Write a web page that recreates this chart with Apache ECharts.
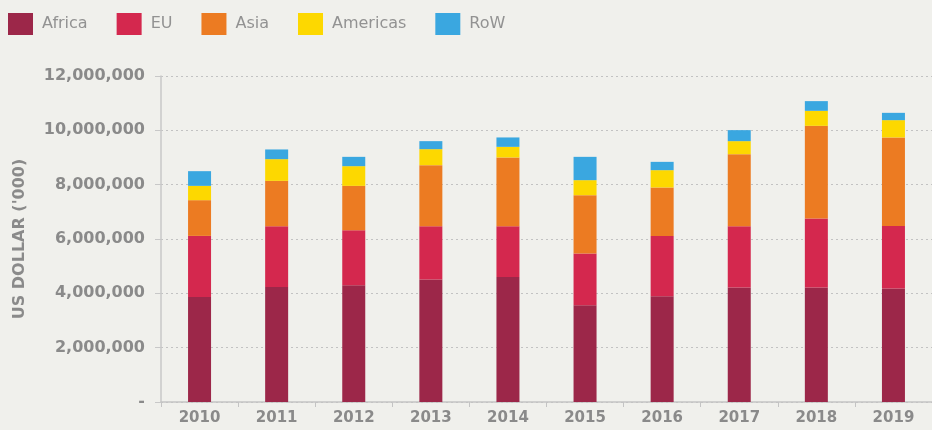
<!DOCTYPE html>
<html>
<head>
<meta charset="utf-8">
<script src="https://cdn.jsdelivr.net/npm/echarts@6/dist/echarts.min.js"></script>
<style>
  html, body { margin: 0; padding: 0; background: #f0f0ec; }
  #chart { width: 932px; height: 430px; }
</style>
</head>
<body>
<div id="chart"></div>
<script>
// Years on the category axis
const years = ['2010', '2011', '2012', '2013', '2014', '2015', '2016', '2017', '2018', '2019'];

// Exports by destination region, US dollar ('000)
const africa   = [3867000, 4236000, 4298000, 4508000, 4604000, 3562000, 3893000, 4214000, 4214000, 4177000];
const eu       = [2247000, 2235000, 2026000, 1963000, 1867000, 1904000, 2221000, 2257000, 2541000, 2305000];
const asia     = [1315000, 1669000, 1632000, 2247000, 2531000, 2147000, 1783000, 2652000, 3411000, 3256000];
const americas = [ 527000,  799000,  725000,  589000,  390000,  553000,  637000,  479000,  552000,  637000];
const row      = [ 541000,  357000,  343000,  295000,  346000,  858000,  306000,  405000,  357000,  269000];

// Value axis ticks
const yTicks = [0, 2000000, 4000000, 6000000, 8000000, 10000000, 12000000];

const seriesDefs = [
  { name: 'Africa',   data: africa,   color: '#9c2749' },
  { name: 'EU',       data: eu,       color: '#d4284e' },
  { name: 'Asia',     data: asia,     color: '#ec7b22' },
  { name: 'Americas', data: americas, color: '#fdd800' },
  { name: 'RoW',      data: row,      color: '#3aa7e0' }
];

const grey = '#8a8a8a';
const font = 'DejaVu Sans';

const chart = echarts.init(document.getElementById('chart'), null, { renderer: 'canvas' });

chart.setOption({
  backgroundColor: '#f0f0ec',
  animation: false,
  legend: {
    left: 8,
    top: 13,
    padding: 0,
    itemWidth: 25,
    itemHeight: 22,
    itemGap: 29,
    icon: 'rect',
    textStyle: { color: '#929292', fontFamily: font, fontSize: 16, padding: [0, 0, 0, 4] },
    data: seriesDefs.map(s => s.name)
  },
  grid: { left: 161, right: -9, top: 76, bottom: 28, containLabel: false },
  xAxis: {
    type: 'category',
    data: years,
    axisLine: { lineStyle: { color: '#c4c4c4', width: 1.5 } },
    axisTick: { show: true, length: 5, alignWithLabel: false, lineStyle: { color: '#c4c4c4' } },
    axisLabel: { color: grey, fontFamily: font, fontWeight: 'bold', fontSize: 15, margin: 9 }
  },
  yAxis: {
    type: 'value',
    min: yTicks[0],
    max: yTicks[yTicks.length - 1],
    interval: yTicks[1] - yTicks[0],
    name: "US DOLLAR ('000)",
    nameLocation: 'middle',
    nameGap: 133,
    nameRotate: 90,
    nameTextStyle: { color: grey, fontFamily: font, fontWeight: 'bold', fontSize: 16 },
    axisLine: { show: true, lineStyle: { color: '#c8c8c8', width: 1.5 } },
    axisTick: { show: true, length: 6, lineStyle: { color: '#c8c8c8' } },
    axisLabel: {
      color: grey, fontFamily: font, fontWeight: 'bold', fontSize: 16, margin: 16,
      formatter: v => v === 0 ? '-' : v.toLocaleString('en-US')
    },
    splitLine: { show: true, lineStyle: { color: '#c2c2c2', type: [2, 3], width: 1.2 } }
  },
  series: seriesDefs.map(s => ({
    name: s.name,
    type: 'bar',
    stack: 'total',
    barWidth: 23,
    data: s.data,
    itemStyle: { color: s.color }
  }))
});
</script>
</body>
</html>
